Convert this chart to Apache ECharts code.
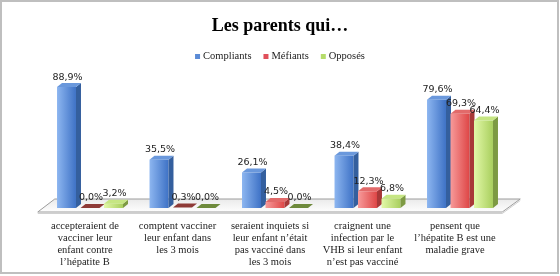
<!DOCTYPE html>
<html><head><meta charset="utf-8">
<script src="https://cdn.jsdelivr.net/npm/echarts@6/dist/echarts.min.js"></script>
<style>html,body{margin:0;padding:0;background:#fff}#c{width:560px;height:276px}</style>
</head><body><div id="c"></div>
<script>
const categories = [
  "accepteraient de\nvacciner leur\nenfant contre\nl’hépatite B",
  "comptent vacciner\nleur enfant dans\nles 3 mois",
  "seraient inquiets si\nleur enfant n’était\npas vacciné dans\nles 3 mois",
  "craignent une\ninfection par le\nVHB si leur enfant\nn’est pas vacciné",
  "pensent que\nl’hépatite B est une\nmaladie grave"
];
const seriesNames = ["Compliants", "Méfiants", "Opposés"];
const compliants = [88.9, 35.5, 26.1, 38.4, 79.6];
const mefiants = [0.0, 0.3, 4.5, 12.3, 69.3];
const opposes = [3.2, 0.0, 0.0, 6.8, 64.4];

const palettes = [
  {legend: '#5B8BD6', fl: '#8DB6F0', fr: '#3E72C6', side: '#345F9E', top: '#6A98DC', zero: '#3F5F92'},
  {legend: '#E0505A', fl: '#F79A9A', fr: '#DE4646', side: '#A83838', top: '#E26A6A', zero: '#8E3A36'},
  {legend: '#B5DC6A', fl: '#E2F8A8', fr: '#A9CF5E', side: '#7D9A43', top: '#C6E683', zero: '#6E8A3C'}
];

function make3D(si) {
  const p = palettes[si];
  return function (params, api) {
    const cat = api.value(0), v = api.value(1);
    const base = api.coord([cat, 0]);
    const tp = api.coord([cat, v]);
    const band = api.size([1, 0])[0];
    const pitch = band * 0.254, w = band * 0.205;
    const cx = base[0] + (si - 1) * pitch;
    const x0 = cx - w / 2, x1 = cx + w / 2;
    const yb = base[1], yt = tp[1];
    const dx = 5, dy = -4;
    const children = [];
    const h = yb - yt;
    if (h > 0.5) {
      children.push({
        type: 'rect', shape: {x: x0, y: yt, width: w, height: h},
        style: {fill: new echarts.graphic.LinearGradient(0, 0, 1, 0, [
          {offset: 0, color: p.fl}, {offset: 1, color: p.fr}])}
      });
      children.push({
        type: 'polygon', shape: {points: [[x1, yt], [x1 + dx, yt + dy], [x1 + dx, yb + dy], [x1, yb]]},
        style: {fill: p.side}
      });
    }
    children.push({
      type: 'polygon', shape: {points: [[x0, yt], [x0 + dx, yt + dy], [x1 + dx, yt + dy], [x1, yt]]},
      style: {fill: h > 0.5 ? p.top : p.zero}
    });
    children.push({
      type: 'text',
      style: {
        x: cx + 1, y: yt - 5, text: v.toFixed(1).replace('.', ',') + '%',
        align: 'center', verticalAlign: 'bottom',
        font: '9.5px "DejaVu Sans"', fill: '#222'
      }
    });
    return {type: 'group', children: children};
  };
}

function floorItem(params, api) {
  const cs = params.coordSys;
  const L = cs.x, R = cs.x + cs.width, B = cs.y + cs.height;
  return {
    type: 'group', children: [
      {type: 'polygon', shape: {points: [[L - 6, B + 4], [R - 4, B + 4], [R + 14, B - 9], [L + 11, B - 9]]},
        style: {fill: new echarts.graphic.LinearGradient(0, 0, 0, 1, [
          {offset: 0, color: '#e9e9e9'}, {offset: 1, color: '#ffffff'}]),
          stroke: '#9c9c9c', lineWidth: 1}},
      {type: 'polyline', shape: {points: [[L - 6, B + 5.5], [R - 4, B + 5.5], [R + 14, B - 7.5]]},
        style: {stroke: '#d0d0d0', lineWidth: 1, fill: null}}
    ]
  };
}

const dataSets = [compliants, mefiants, opposes];
const series = [{
  type: 'custom', name: 'floor', renderItem: floorItem, data: [[0, 0]], z: 1, silent: true
}];
dataSets.forEach((arr, si) => {
  series.push({
    type: 'custom', name: seriesNames[si], renderItem: make3D(si), z: 2,
    itemStyle: {color: palettes[si].legend},
    data: arr.map((v, i) => [i, v]),
    encode: {x: 0, y: 1}
  });
});

const chart = echarts.init(document.getElementById('c'), null, {renderer: 'canvas'});
chart.setOption({
  animation: false,
  backgroundColor: '#ffffff',
  title: {
    text: 'Les parents qui…', left: 'center', top: 12,
    textStyle: {fontFamily: '"Liberation Serif"', fontWeight: 'bold', fontSize: 18, color: '#000'}
  },
  legend: {
    data: seriesNames, top: 46, left: 'center', icon: 'rect', itemWidth: 5, itemHeight: 5, itemGap: 12,
    textStyle: {fontFamily: '"Liberation Serif"', fontSize: 10.5, color: '#222', padding: [0, 0, 0, -2]}
  },
  grid: {left: 43.75, right: 53.75, top: 72, bottom: 68},
  xAxis: {
    type: 'category', data: categories,
    axisLine: {show: false}, axisTick: {show: false},
    axisLabel: {interval: 0, margin: 12, lineHeight: 12, padding: [0, 10, 0, 0],
      fontFamily: '"Liberation Serif"', fontSize: 10.5, color: '#222'}
  },
  yAxis: {type: 'value', min: 0, max: 100, show: false, splitLine: {show: false}},
  series: series,
  graphic: [{
    type: 'rect', shape: {x: 1, y: 1, width: 557, height: 272},
    style: {fill: null, stroke: '#bfbfbf', lineWidth: 2}, z: 100, silent: true
  }]
});
</script></body></html>
